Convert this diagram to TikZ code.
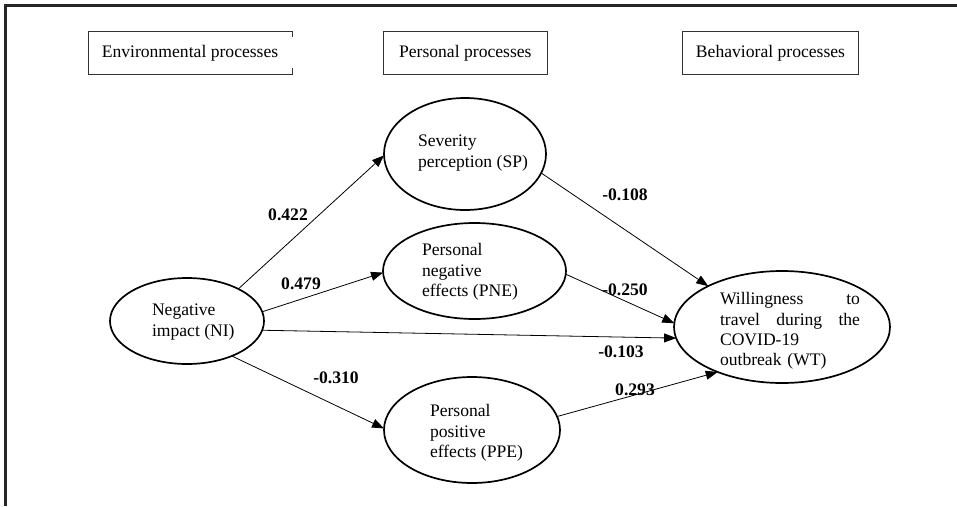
\documentclass[tikz,border=0pt]{standalone}
\usepackage{fontspec}
\setmainfont{Liberation Serif}
\usetikzlibrary{arrows.meta,shapes.geometric}
\begin{document}
\begin{tikzpicture}[x=1pt,y=-1pt,
  every node/.style={inner sep=0pt,outer sep=0pt},
  txt/.style={font=\fontsize{17.6}{20.3}\selectfont,align=left,anchor=west},
  lab/.style={font=\fontsize{17.6}{20.3}\selectfont\bfseries},
  oval/.style={ellipse,draw=black,line width=1.7pt},
  hbox/.style={draw=black!80,line width=1pt,minimum height=43pt,font=\fontsize{17.6}{20.3}\selectfont},
  arr/.style={line width=0.8pt,-{Triangle[length=12pt,width=9pt]}}]
\useasboundingbox (0,0) rectangle (957,506);
% frame
\draw[line width=3.3pt,black!85,line join=miter] (957,5.5) -- (5.5,5.5) -- (5.5,506);
% headers
\node[font=\fontsize{17.6}{20.3}\selectfont,minimum width=204pt,minimum height=43pt] (env) at (190,53.3) {Environmental processes};
\draw[black!80,line width=1pt] ([yshift=-5pt]env.north east) -- (env.north east) -- (env.north west) -- (env.south west) -- (env.south east) -- ([yshift=7pt]env.south east);
\node[hbox,minimum width=164pt] (pers) at (465.3,53) {Personal processes};
\node[hbox,minimum width=175.6pt] (beh) at (770.5,53) {Behavioral processes};
% ovals
\node[oval,minimum width=154pt,minimum height=86pt] (NI) at (187,321) {};
\node[oval,minimum width=162pt,minimum height=112pt] (SP) at (465,154) {};
\node[oval,minimum width=183pt,minimum height=96pt] (PNE) at (474.5,271) {};
\node[oval,minimum width=176pt,minimum height=106pt] (PPE) at (472,430) {};
\node[oval,minimum width=216pt,minimum height=112pt] (WT) at (782,327) {};
% texts
\node[txt] (NIt) at (152,322) {Negative\\impact (NI)};
\node[txt] (SPt) at (418,153) {Severity\\perception (SP)};
\node[txt] (PNEt) at (422,272) {Personal\\negative\\effects (PNE)};
\node[txt] (PPEt) at (430,433) {Personal\\positive\\effects (PPE)};
\node[txt,text width=140pt] (WTt) at (720,331) {Willingness\hfill to\\travel\hfill during\hfill the\\COVID-19\\outbreak (WT)};
% connectors
\draw[arr] (NI.32) -- (SP.181);
\draw[arr] (NI.7) -- (PNE.181);
\draw[arr] (NI.-7) -- (WT.186);
\draw[arr] (NI.-38) -- (PPE.179);
\draw[arr] (SP.-14) -- (WT.151);
\draw[arr] (PNE.-2) -- (WT.178);
\draw[arr] (PPE.9) -- (WT.215);
% labels
\node[lab] (l1) at (288,215) {0.422};
\node[lab] (l2) at (301,284) {0.479};
\node[lab] (l3) at (336,378) {-0.310};
\node[lab] (l4) at (625,195) {-0.108};
\node[lab] (l5) at (625,290) {-0.250};
\node[lab] (l6) at (621,352) {-0.103};
\node[lab] (l7) at (635,390) {0.293};
\end{tikzpicture}
\end{document}
